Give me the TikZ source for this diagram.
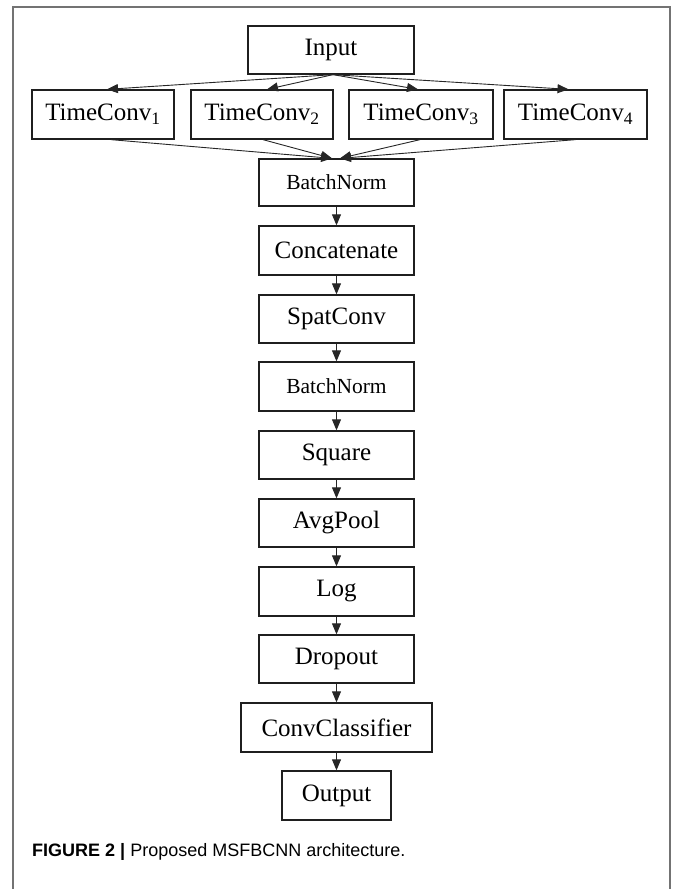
\documentclass[tikz,border=0pt]{standalone}
\usepackage{fontspec}
\setmainfont{Liberation Serif}
\setsansfont{Liberation Sans}
\usetikzlibrary{arrows.meta}
\begin{document}
\begin{tikzpicture}[x=1pt,y=-1pt,
  blk/.style={draw=black!88, line width=1.3pt, minimum height=48pt, inner sep=0pt, font=\fontsize{25}{28}\selectfont},
  bnfont/.style={font=\fontsize{21.5}{24}\selectfont},
  conn/.style={draw=black!85, line width=0.9pt, -{Triangle[length=11pt,width=9pt]}},
  framel/.style={draw=black!55, line width=1.5pt}]
\useasboundingbox (0,0) rectangle (675,889);
\draw[framel] (13,889) -- (13,7) -- (670,7) -- (670,889);
\node[blk, minimum width=166pt] (in) at (331,50) {Input};
\node[blk, minimum width=142pt, minimum height=49pt] (t1) at (103,114.5) {TimeConv\textsubscript{1}};
\node[blk, minimum width=142pt, minimum height=49pt] (t2) at (262,114.5) {TimeConv\textsubscript{2}};
\node[blk, minimum width=144pt, minimum height=49pt] (t3) at (421,114.5) {TimeConv\textsubscript{3}};
\node[blk, minimum width=143pt, minimum height=49pt] (t4) at (575.5,114.5) {TimeConv\textsubscript{4}};
\node[blk, bnfont, minimum width=155pt, minimum height=47pt] (bn1) at (336.5,182.5) {BatchNorm};
\node[blk, minimum width=155pt, minimum height=49pt] (cc) at (336.5,250.5) {Concatenate};
\node[blk, minimum width=155pt] (sc) at (336.5,319) {SpatConv};
\node[blk, bnfont, minimum width=155pt, minimum height=49pt] (bn2) at (336.5,386.5) {BatchNorm};
\node[blk, minimum width=155pt] (sq) at (336.5,455) {Square};
\node[blk, minimum width=155pt] (ap) at (336.5,523) {AvgPool};
\node[blk, minimum width=155pt, minimum height=49pt] (lg) at (336.5,591.5) {Log};
\node[blk, minimum width=155pt] (dp) at (336.5,659) {Dropout};
\node[blk, minimum width=191pt, minimum height=49pt] (cl) at (336.5,727.5) {ConvClassifier};
\node[blk, minimum width=109pt, minimum height=49pt] (out) at (336.5,795.5) {Output};
\draw[conn] ([xshift=2pt]in.south) -- ([xshift=4pt]t1.north);
\draw[conn] ([xshift=2pt]in.south) -- ([xshift=5pt]t2.north);
\draw[conn] ([xshift=2pt]in.south) -- ([xshift=-3pt]t3.north);
\draw[conn] ([xshift=2pt]in.south) -- ([xshift=-7pt]t4.north);
\draw[conn] ([xshift=8pt]t1.south) -- ([xshift=-4.5pt]bn1.north);
\draw[conn] ([xshift=1pt]t2.south) -- ([xshift=-4.5pt]bn1.north);
\draw[conn] ([xshift=-1pt]t3.south) -- ([xshift=3.5pt]bn1.north);
\draw[conn] (t4.south) -- ([xshift=3.5pt]bn1.north);
\draw[conn] (bn1) -- (cc);
\draw[conn] (cc) -- (sc);
\draw[conn] (sc) -- (bn2);
\draw[conn] (bn2) -- (sq);
\draw[conn] (sq) -- (ap);
\draw[conn] (ap) -- (lg);
\draw[conn] (lg) -- (dp);
\draw[conn] (dp) -- (cl);
\draw[conn] (cl) -- (out);
\node[anchor=base west, inner sep=0pt, font=\sffamily\fontsize{18}{20}\selectfont] (cap) at (32,856) {\textbf{FIGURE 2 |} Proposed MSFBCNN architecture.};
\end{tikzpicture}
\end{document}
